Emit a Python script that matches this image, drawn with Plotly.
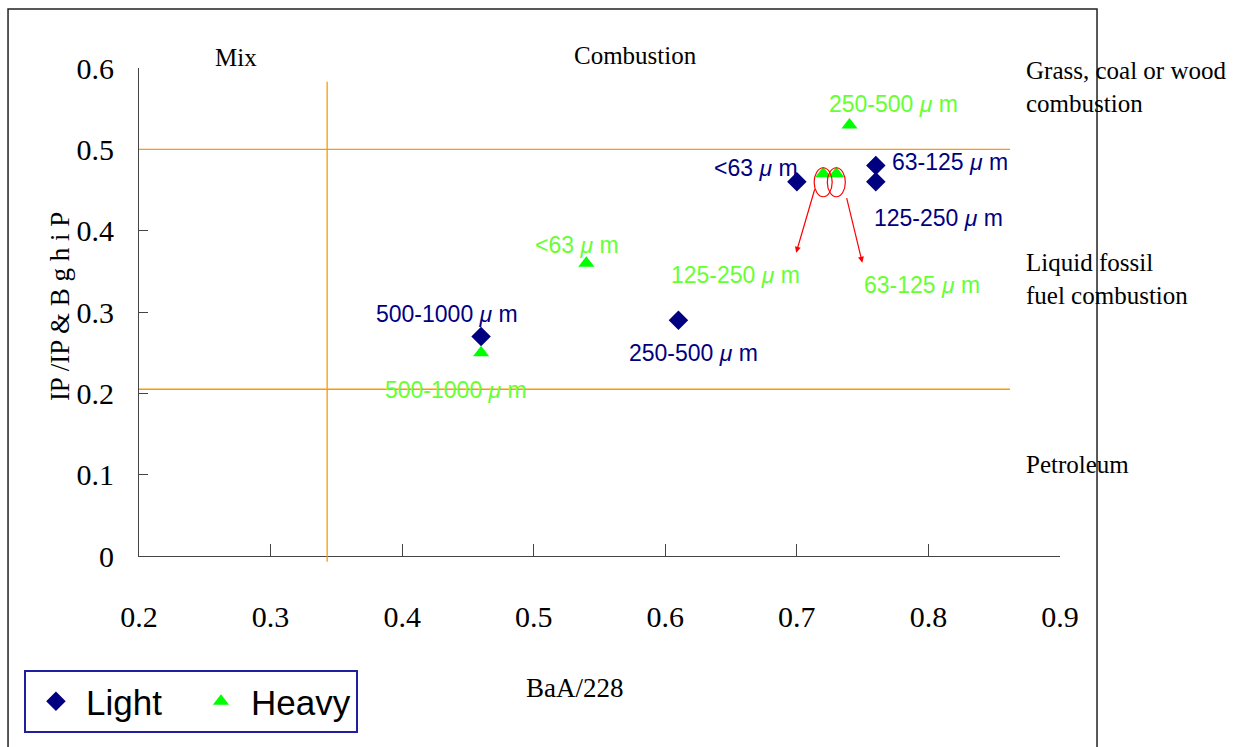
import plotly.graph_objects as go

# ---------------- data ----------------
light_x = [0.46, 0.61, 0.70, 0.76, 0.76]
light_y = [0.27, 0.29, 0.46, 0.48, 0.46]
light_labels = ["500-1000", "250-500", "<63", "63-125", "125-250"]

heavy_x = [0.46, 0.54, 0.72, 0.73, 0.74]
heavy_y = [0.25, 0.36, 0.47, 0.47, 0.53]
heavy_labels = ["500-1000", "<63", "125-250", "63-125", "250-500"]

x_ticks = [0.2, 0.3, 0.4, 0.5, 0.6, 0.7, 0.8, 0.9]
y_ticks = [0, 0.1, 0.2, 0.3, 0.4, 0.5, 0.6]

# threshold lines
mix_comb_x = 0.343
thr_upper = 0.5
thr_lower = 0.205

region_labels = ["Mix", "Combustion"]
side_labels = ["Grass, coal or wood<br>combustion", "Liquid fossil<br>fuel combustion", "Petroleum"]

# ---------------- styles ----------------
NAVY = "#000080"
LIME = "#00FF00"
LIME_TXT = "#66FF33"
ORANGE = "#FF9900"
SERIF = "Liberation Serif, Times New Roman, serif"
SANS = "Liberation Sans, Arial, sans-serif"

# pixel offsets of the labels relative to their points (dx, dy up)
light_off = [(-34, 22), (15, -33), (-41, 14), (74, 4), (63, -36)]
heavy_off = [(-25, -37), (-9, 18), (-88, -101), (86, -111), (44, 21)]

fig = go.Figure()
fig.add_trace(go.Scatter(x=light_x, y=light_y, mode="markers", name="Light",
                         marker=dict(symbol="diamond", size=15, color=NAVY,
                                     line=dict(width=0))))
fig.add_trace(go.Scatter(x=heavy_x, y=heavy_y, mode="markers", name="Heavy",
                         marker=dict(symbol="triangle-up", size=14, color=LIME,
                                     line=dict(width=0))))

ann = []
for xs, ys, labs, offs, col in [(light_x, light_y, light_labels, light_off, NAVY),
                                (heavy_x, heavy_y, heavy_labels, heavy_off, LIME_TXT)]:
    for x, y, t, (dx, dy) in zip(xs, ys, labs, offs):
        ann.append(dict(x=x, y=y, xref="x", yref="y", showarrow=False,
                        xanchor="center", yanchor="middle",
                        text=t + " <i>μ</i> m", xshift=dx, yshift=dy,
                        font=dict(family=SANS, size=23, color=col)))

# red arrows from the circled heavy points
ann.append(dict(x=heavy_x[2], y=heavy_y[2], xref="x", yref="y", text="",
                showarrow=True, arrowhead=2, arrowsize=1, arrowwidth=1.2,
                arrowcolor="red", xshift=-27, yshift=-79, ax=19, ay=-65))
ann.append(dict(x=heavy_x[3], y=heavy_y[3], xref="x", yref="y", text="",
                showarrow=True, arrowhead=2, arrowsize=1, arrowwidth=1.2,
                arrowcolor="red", xshift=26, yshift=-89, ax=-16, ay=-66))

# region labels
ann.append(dict(x=0.1053, y=1.0225, xref="paper", yref="paper", text=region_labels[0],
                xanchor="center", yanchor="middle",
                showarrow=False, font=dict(family=SERIF, size=25, color="black")))
ann.append(dict(x=0.5396, y=1.0246, xref="paper", yref="paper", text=region_labels[1],
                xanchor="center", yanchor="middle",
                showarrow=False, font=dict(family=SERIF, size=25, color="black")))
for yy, t in zip([0.961, 0.5676, 0.1865], side_labels):
    ann.append(dict(x=0.961, y=yy, xref="paper", yref="paper", text=t, align="left",
                    xanchor="left", yanchor="middle", showarrow=False,
                    font=dict(family=SERIF, size=25, color="black")))

# axis titles
ann.append(dict(x=0.4734, y=-0.2705, xref="paper", yref="paper", text="BaA/228",
                xanchor="center", yanchor="middle",
                showarrow=False, font=dict(family=SERIF, size=27, color="black")))
ann.append(dict(x=-0.0858, y=0.512, xref="paper", yref="paper", textangle=-90,
                xanchor="center", yanchor="middle",
                text="IP /IP & B g h i P", showarrow=False,
                font=dict(family=SERIF, size=27, color="black")))

shapes = [
    dict(type="line", xref="x", yref="y", x0=x_ticks[0], x1=0.862, y0=thr_upper, y1=thr_upper,
         line=dict(color=ORANGE, width=1.3)),
    dict(type="line", xref="x", yref="y", x0=x_ticks[0], x1=0.862, y0=thr_lower, y1=thr_lower,
         line=dict(color=ORANGE, width=1.3)),
    dict(type="line", xref="x", yref="paper", x0=mix_comb_x, x1=mix_comb_x, y0=-0.012, y1=0.972,
         line=dict(color=ORANGE, width=1.3)),
    # outer frame
    dict(type="rect", xref="paper", yref="paper", x0=-0.1422, x1=1.0402, y0=-0.45, y1=1.1209,
         line=dict(color="#222", width=1.5)),
]
for i in (2, 3):
    shapes.append(dict(type="circle", xref="x", yref="y", xsizemode="pixel", ysizemode="pixel",
                       xanchor=heavy_x[i], yanchor=heavy_y[i], x0=-9, x1=9, y0=-23, y1=6,
                       line=dict(color="red", width=1.2)))

fig.update_layout(
    width=1256, height=747,
    margin=dict(l=139, r=196, t=68, b=191),
    paper_bgcolor="white", plot_bgcolor="white",
    annotations=ann, shapes=shapes,
    showlegend=True,
    legend=dict(orientation="h", x=-0.1249, y=-0.2336, xanchor="left", yanchor="top",
                bordercolor="#1f1f9f", borderwidth=2, bgcolor="white",
                font=dict(family=SANS, size=35, color="black"),
                itemwidth=50,
                entrywidth=100, entrywidthmode="pixels"),
    xaxis=dict(range=[0.2, 0.9], tickvals=x_ticks, ticktext=[f"{v:.1f}" for v in x_ticks],
               ticks="inside", ticklen=12, tickcolor="#444", showline=True, linecolor="#444",
               showgrid=False, zeroline=False, ticklabelstandoff=34,
               tickfont=dict(family=SERIF, size=30, color="black")),
    yaxis=dict(range=[0, 0.6], tickvals=y_ticks, ticktext=["0"] + [f"{v:.1f}" for v in y_ticks[1:]],
               ticks="inside", ticklen=9, tickcolor="#444", showline=True, linecolor="#444",
               showgrid=False, zeroline=False, ticklabelstandoff=18,
               tickfont=dict(family=SERIF, size=30, color="black")),
)

fig.write_html("out.html")
